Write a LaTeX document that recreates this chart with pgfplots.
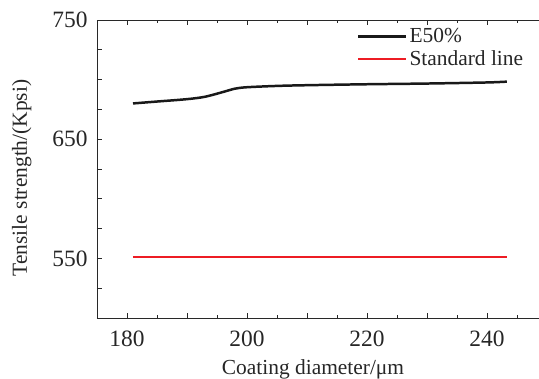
\documentclass[border=0pt]{standalone}
\usepackage{pgfplots}
\pgfplotsset{compat=1.18}
\usepackage{fontspec}
\setmainfont{Liberation Serif}
\definecolor{stdred}{RGB}{237,28,36}
\definecolor{axgray}{RGB}{40,40,40}
\newcommand{\bigf}{\fontsize{21.5}{24}\selectfont}
\newcommand{\tickf}{\fontsize{23.5}{27}\selectfont}
\begin{document}
\begin{tikzpicture}
\begin{axis}[
  name=ax,
  scale only axis,
  width=450bp, height=298bp,
  xmin=175, xmax=250, ymin=500, ymax=750,
  xtick={180,190,...,250},
  xticklabels={180,,200,,220,,240,},
  minor x tick num=1,
  ytick={500,525,...,750},
  yticklabels={,,550,,,,650,,,,750},
  tick align=inside,
  major tick length=5bp,
  minor tick length=3bp,
  ticklabel pos=left,
  axis line style={axgray, line width=0.9pt},
  every tick/.style={axgray, line width=0.8pt},
  every tick label/.append style={font=\tickf, text=black!85},
  xticklabel style={yshift=-9bp},
  yticklabel style={xshift=-6bp},
  xlabel={Coating diameter/μm},
  ylabel={Tensile strength/(Kpsi)},
  xlabel style={font=\bigf, text=black!85, at={(axis description cs:0.48,0)}, anchor=north, yshift=-38bp},
  ylabel style={font=\bigf, text=black!85, at={(axis description cs:-0.167,0.47)}, anchor=center},
  legend style={draw=none, fill=none, at={(0.577,0.978)}, anchor=north west,
    font=\bigf, text=black!85, row sep=2bp,
    inner sep=0bp},
  legend cell align=left,
  legend image code/.code={\draw[#1] (0cm,0cm) -- (1.7cm,0cm);},
]
\addplot[black!90, line width=2.5pt, smooth, tension=0.5] coordinates {
 (181,680) (185,681.6) (190,683.6) (193,685.6) (196,689.6) (198,692.4)
 (200,693.6) (205,694.7) (210,695.3) (220,696.1) (230,696.7) (240,697.6) (243.3,698.3)
};
\addlegendentry{E50\%}
\addplot[stdred, line width=2pt] coordinates {(181,551) (243.3,551)};
\addlegendentry{Standard line}
\end{axis}
\pgfresetboundingbox
\path[use as bounding box] ([xshift=-97bp,yshift=-61bp]ax.south west) rectangle ([xshift=442bp,yshift=20bp]ax.north west);
\end{tikzpicture}
\end{document}
